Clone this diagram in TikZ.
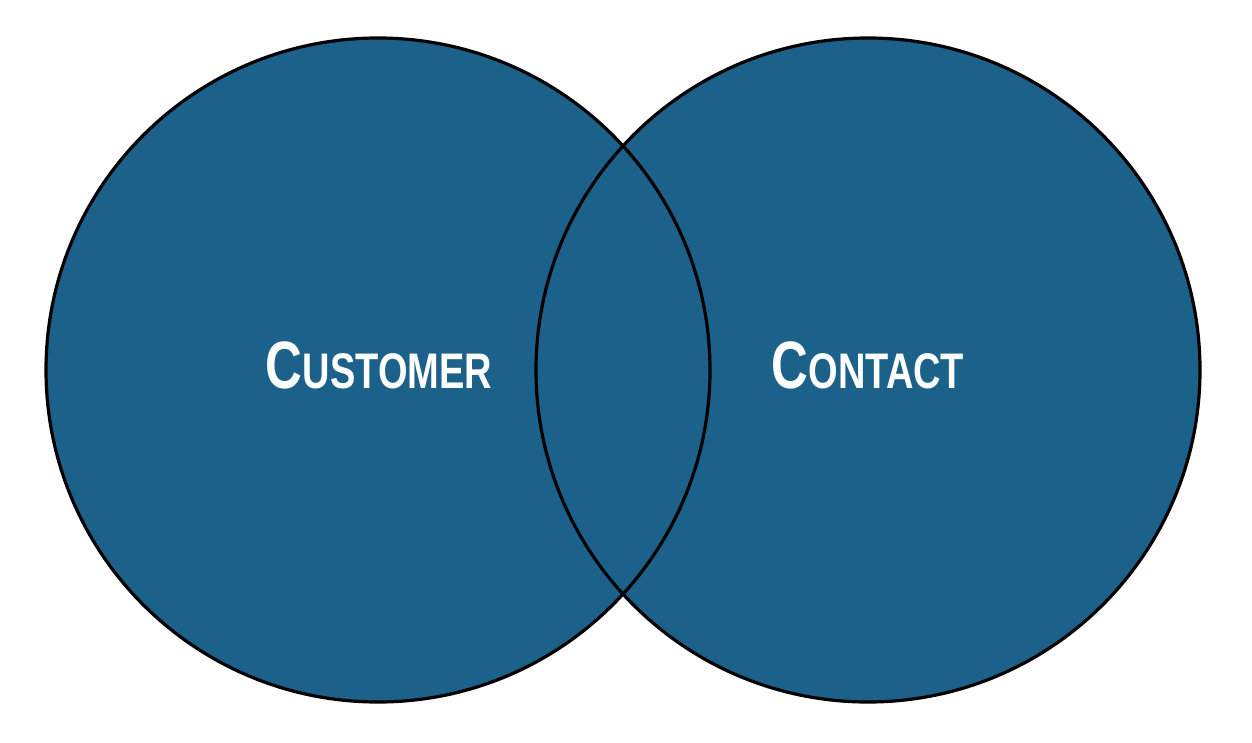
\documentclass[tikz,border=0pt]{standalone}
\usepackage{fontspec}
\usepackage{graphicx}
\setmainfont{Liberation Sans}
\definecolor{vennblue}{HTML}{1C6189}
\newcommand{\vennlabel}[2]{\scalebox{0.76}[1]{\bfseries\fontsize{67}{67}\selectfont #1\fontsize{50}{50}\selectfont #2}}
\begin{document}
\begin{tikzpicture}[x=1pt,y=-1pt,
  vennset/.style={circle,minimum size=664pt,inner sep=0pt,fill=vennblue},
  vennline/.style={draw=black,line width=3.2pt},
  venntext/.style={text=white,inner sep=0pt,anchor=base}]
\useasboundingbox (0,0) rectangle (1252,742);
\node[vennset] (cust) at (378,370) {};
\node[vennset] (cont) at (868,370) {};
\draw[vennline] (cust.center) circle[radius=332pt];
\draw[vennline] (cont.center) circle[radius=332pt];
\node[venntext] (custlabel) at (379,388) {\vennlabel{C}{USTOMER}};
\node[venntext] (contlabel) at (868,388) {\vennlabel{C}{ONTACT}};
\end{tikzpicture}
\end{document}
